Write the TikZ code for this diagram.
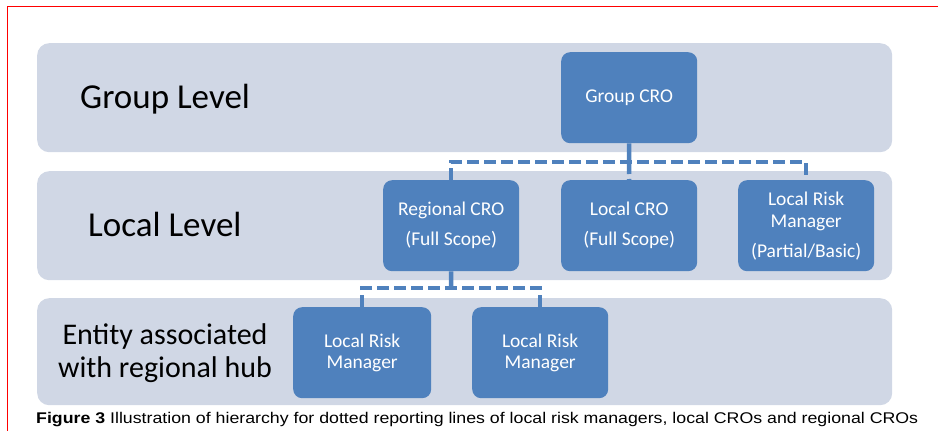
\documentclass[tikz,border=0pt]{standalone}
\usepackage{fontspec}
\usepackage{graphicx}
\setmainfont{Carlito}
\newfontfamily\capfont{Liberation Sans}
\definecolor{bandfill}{HTML}{D0D7E5}
\definecolor{boxblue}{HTML}{4F81BD}
\begin{document}
\begin{tikzpicture}[x=1pt,y=-1pt,
  band/.style={fill=bandfill, rounded corners=12pt, draw=none, anchor=north west, inner sep=0, minimum width=855pt},
  unit/.style={fill=boxblue, rounded corners=9pt, draw=none, text=white, align=center,
    font=\fontsize{19.5}{22}\selectfont, minimum width=136pt, minimum height=91pt, inner sep=0, anchor=north west},
  lvl/.style={font=\fontsize{35}{35}\selectfont, anchor=base west, inner sep=0, text=black},
  link/.style={draw=boxblue, line width=4.5pt},
  dlink/.style={link, line width=4.5pt, dash pattern=on 12pt off 5pt}]
\useasboundingbox (0,0) rectangle (938,431);
\draw[red, line width=1.2pt] (7.5,431) -- (7.5,6.5) -- (938,6.5);
% bands
\node[band, minimum height=109pt] (gband) at (37,43) {};
\node[band, minimum height=109pt] (lband) at (37,171) {};
\node[band, minimum height=107pt] (eband) at (37,298) {};
% level labels
\node[lvl] (lg) at (80,108) {Group Level};
\node[lvl] (ll) at (88,236) {Local Level};
\node[lvl, anchor=center, align=center, font=\fontsize{30}{33}\selectfont] (le) at (165,353) {Entity associated\\with regional hub};
% boxes
\node[unit] (gcro) at (561,52) {Group CRO};
\node[unit] (rcro) at (383,180) {Regional CRO\\[8pt](Full Scope)};
\node[unit] (lcro) at (561,180) {Local CRO\\[8pt](Full Scope)};
\node[unit] (lrm) at (738,180) {Local Risk\\Manager\\[8pt](Partial/Basic)};
\node[unit, minimum width=138pt, font=\fontsize{19.5}{21}\selectfont] (e1) at (293,307) {Local Risk\\Manager};
\node[unit, font=\fontsize{19.5}{21}\selectfont] (e2) at (472,307) {Local Risk\\Manager};
% connectors
\coordinate (bar1) at (629,162);
\coordinate (bar2) at (451,288);
\draw[link] (gcro.south) -- (bar1);
\draw[dlink] (rcro.north) |- (bar1) -| (lrm.north);
\draw[dlink] (bar1) -- (lcro.north);
\draw[link] (rcro.south) -- (bar2);
\draw[dlink] (e1.north) |- (bar2) -| (e2.north);
% caption
\node[anchor=base west, inner sep=0, font=\capfont\fontsize{15.5}{16}\selectfont] (cap) at (36,423)
  {\resizebox{882pt}{\height}{\textbf{Figure 3} Illustration of hierarchy for dotted reporting lines of local risk managers, local CROs and regional CROs}};
\end{tikzpicture}
\end{document}
